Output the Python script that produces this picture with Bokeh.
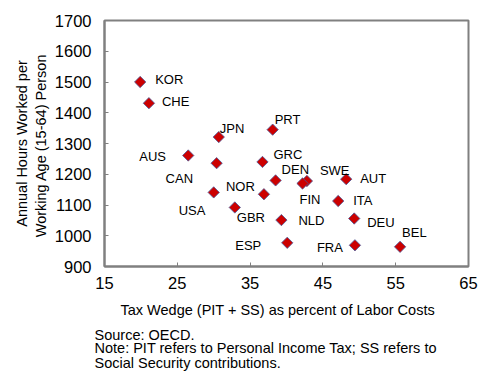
import numpy as np
from bokeh.plotting import figure
from bokeh.models import ColumnDataSource, Range1d, FixedTicker, Title
from bokeh.core.properties import value
from bokeh.embed import file_html
from bokeh.resources import INLINE

countries = ["KOR", "CHE", "JPN", "AUS", "CAN", "USA", "NOR", "GBR", "NLD", "ESP",
             "PRT", "GRC", "DEN", "SWE", "FIN", "AUT", "ITA", "DEU", "FRA", "BEL"]
tax_wedge = [19.9, 21.1, 30.7, 26.5, 30.4, 30.0, 36.9, 32.9, 39.3, 40.1,
             38.1, 36.7, 38.5, 42.8, 42.2, 48.2, 47.1, 49.3, 49.4, 55.6]
hours = [1500, 1431, 1321, 1261, 1236, 1141, 1135, 1092, 1051, 977,
         1345, 1240, 1180, 1178, 1170, 1184, 1113, 1056, 969, 964]
x_ticks = [15, 25, 35, 45, 55, 65]
y_ticks = [900, 1000, 1100, 1200, 1300, 1400, 1500, 1600, 1700]

# label offsets in pixels (left edge of text, vertical middle)
label_dx = [15, 13, 1, -49, -51, -35, -38, 2, 17, -52,
            2, 11, 6, 13, -3, 14, 15, 13, -38, 2]
label_dy = [-3, -2, -9, 1, 15, 18, -8, 10, 0, 3,
            -10, -7, -11, -11, 16, -1, -1, 4, 2, -14]

p = figure(width=486, height=376, output_backend="svg", toolbar_location=None,
           x_range=Range1d(15, 65), y_range=Range1d(900, 1700),
           min_border_left=104, min_border_right=18, min_border_top=20,
           min_border_bottom=110)
p.xgrid.visible = False
p.ygrid.visible = False
p.outline_line_color = "#808080"
p.outline_line_width = 2
p.background_fill_color = "white"
p.border_fill_color = "white"

for ax in (p.xaxis, p.yaxis):
    ax.axis_line_color = "#808080"
    ax.axis_line_width = 2
    ax.major_tick_line_color = "#808080"
    ax.major_tick_line_width = 1
    ax.major_tick_in = 4
    ax.major_tick_out = 0
    ax.minor_tick_line_color = None
    ax.major_label_text_font = "Liberation Sans"
    ax.major_label_text_font_size = "16.5px"
    ax.major_label_text_color = "black"
    ax.axis_label_text_font = "Liberation Sans"
    ax.axis_label_text_font_size = "14.5px"
    ax.axis_label_text_font_style = "normal"
    ax.axis_label_text_color = "black"
p.xaxis.ticker = FixedTicker(ticks=x_ticks)
p.yaxis.ticker = FixedTicker(ticks=y_ticks)
p.xaxis.major_label_standoff = 10
p.yaxis.major_label_standoff = 13
p.yaxis.axis_label = "Annual Hours Worked per\nWorking Age (15-64)  Person"
p.yaxis.axis_label_standoff = 3

src = ColumnDataSource(dict(x=tax_wedge, y=hours, name=countries,
                            dx=label_dx, dy=label_dy))
p.scatter("x", "y", source=src, marker="square", angle=np.pi / 4, size=8,
          fill_color="#CC0000", line_color="#4A5A9A", line_width=1, line_alpha=0.8)
p.text("x", "y", text="name", source=src, x_offset="dx", y_offset="dy",
       text_font=value("Liberation Sans"), text_font_size="13px",
       text_align="left", text_baseline="middle", text_color="black")

def note(text, offset, standoff):
    p.add_layout(Title(text=text, align="left", offset=offset, standoff=standoff,
                       text_font="Liberation Sans", text_font_size="14.5px",
                       text_font_style="normal", text_color="black"), "below")

note("Tax Wedge (PIT + SS) as percent of Labor Costs", 16, 16)
note("Source: OECD.", -10, -2)
note("Note: PIT refers to Personal Income Tax; SS refers to", -10, -8)
note("Social Security contributions.", -10, 2)

open("out.html", "w").write(file_html(p, INLINE))
